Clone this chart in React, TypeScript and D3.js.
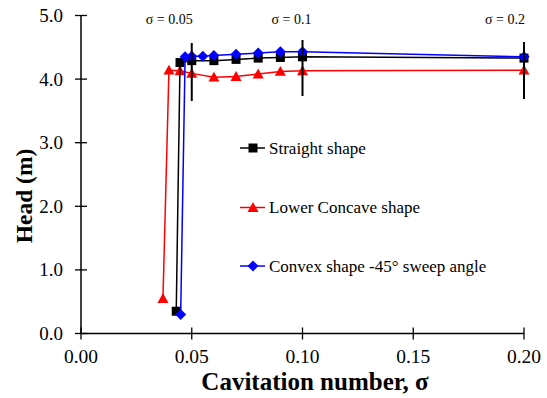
import React from "react";
import * as d3 from "d3";

const straightX = [0.043, 0.0447, 0.05, 0.06, 0.07, 0.08, 0.09, 0.1, 0.2];
const straightY = [0.35, 4.26, 4.29, 4.29, 4.31, 4.33, 4.34, 4.35, 4.33];
const concaveX = [0.037, 0.0397, 0.0447, 0.05, 0.06, 0.07, 0.08, 0.09, 0.1, 0.2];
const concaveY = [0.55, 4.14, 4.13, 4.09, 4.03, 4.04, 4.08, 4.12, 4.13, 4.14];
const convexX = [0.045, 0.047, 0.05, 0.055, 0.06, 0.07, 0.08, 0.09, 0.1, 0.2];
const convexY = [0.3, 4.35, 4.36, 4.36, 4.37, 4.39, 4.41, 4.43, 4.43, 4.35];
const seriesNames = ["Straight shape", "Lower Concave shape", "Convex shape -45° sweep angle"];
const xTicks = [0, 0.05, 0.1, 0.15, 0.2];
const yTicks = [0, 1, 2, 3, 4, 5];
const markSigma = [0.05, 0.1, 0.2];
const markLabels = ["σ = 0.05", "σ = 0.1", "σ = 0.2"];

const W = 547;
const H = 398;
const FF = "Liberation Serif";

function Marker(props: { shape: string; cx: number; cy: number; color: string }) {
  const { shape, cx, cy, color } = props;
  if (shape === "square") {
    return <rect x={cx - 4.5} y={cy - 4.5} width={9} height={9} fill={color} />;
  }
  const s = 5.5;
  if (shape === "triangle") {
    return <path d={`M${cx},${cy - s}L${cx + s},${cy + s * 0.8}L${cx - s},${cy + s * 0.8}Z`} fill={color} />;
  }
  return <path d={`M${cx},${cy - s}L${cx + s},${cy}L${cx},${cy + s}L${cx - s},${cy}Z`} fill={color} />;
}

export default function App() {
  const x = d3.scaleLinear().domain([0, 0.2]).range([81, 524]);
  const y = d3.scaleLinear().domain([0, 5]).range([333.5, 15.5]);
  const line = d3.line().x((d: any) => x(d[0])).y((d: any) => y(d[1]));

  const series = [
    { xs: straightX, ys: straightY, color: "#000000", shape: "square" },
    { xs: concaveX, ys: concaveY, color: "#ff0000", shape: "triangle" },
    { xs: convexX, ys: convexY, color: "#0000ff", shape: "diamond" },
  ];
  const drawOrder = [1, 0, 2];

  const markTop = [43, 40, 42];
  const markBot = [101, 96, 99];
  const labelDx = [1, 9, 1];
  const legendY = [148, 207.5, 266];

  return (
    <svg width={W} height={H} style={{ position: "absolute", left: 0, top: 0, background: "#fff" }}>
      <line x1={x(0)} x2={x(0.2)} y1={y(0)} y2={y(0)} stroke="#000" strokeWidth={1.5} />
      <line x1={x(0)} x2={x(0)} y1={y(0)} y2={y(5)} stroke="#000" strokeWidth={1.5} />
      {xTicks.map((t, i) => (
        <g key={"xt" + i}>
          <line x1={x(t)} x2={x(t)} y1={y(0) - 6} y2={y(0) + 6} stroke="#000" strokeWidth={1.3} />
          <text x={x(t)} y={363} textAnchor="middle" fontSize={19.5} fontFamily={FF} fill="#000">{t.toFixed(2)}</text>
        </g>
      ))}
      {yTicks.map((t, i) => (
        <g key={"yt" + i}>
          <line x1={x(0) - 6} x2={x(0) + 6} y1={y(t)} y2={y(t)} stroke="#000" strokeWidth={1.3} />
          <text x={63} y={y(t) + 6.5} textAnchor="end" fontSize={19} fontFamily={FF} fill="#000">{t.toFixed(1)}</text>
        </g>
      ))}
      <text x={315} y={390} textAnchor="middle" fontSize={25} fontWeight="bold" fontFamily={FF} fill="#000">Cavitation number, σ</text>
      <text transform="translate(32,196) rotate(-90)" textAnchor="middle" fontSize={23.5} fontWeight="bold" fontFamily={FF} fill="#000">Head (m)</text>

      {drawOrder.map(si => {
        const s = series[si];
        const pts: any[] = s.xs.map((v, i) => [v, s.ys[i]]);
        return (
          <g key={"s" + si}>
            <path d={line(pts) || ""} fill="none" stroke={s.color} strokeWidth={1.5} />
            {pts.map((p, i) => <Marker key={i} shape={s.shape} cx={x(p[0])} cy={y(p[1])} color={s.color} />)}
          </g>
        );
      })}

      {markSigma.map((m, i) => (
        <g key={"m" + i}>
          <line x1={x(m)} x2={x(m)} y1={markTop[i]} y2={markBot[i]} stroke="#000" strokeWidth={2} />
          <text x={x(m) + labelDx[i]} y={24} textAnchor="end" fontSize={14} fontFamily={FF} fill="#000">{markLabels[i]}</text>
        </g>
      ))}

      {series.map((s, i) => (
        <g key={"l" + i}>
          <line x1={240} x2={265} y1={legendY[i]} y2={legendY[i]} stroke={s.color} strokeWidth={1.5} />
          <Marker shape={s.shape} cx={253} cy={legendY[i]} color={s.color} />
          <text x={269} y={legendY[i] + 5.5} fontSize={17} fontFamily={FF} fill="#000">{seriesNames[i]}</text>
        </g>
      ))}
    </svg>
  );
}
